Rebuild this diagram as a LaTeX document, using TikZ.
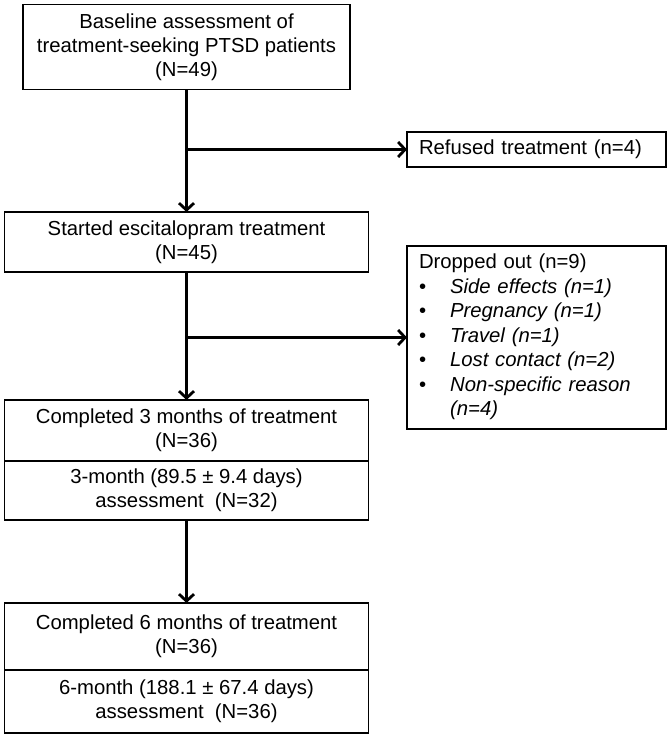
\documentclass[tikz,border=0pt]{standalone}
\usepackage{fontspec}
\setmainfont{Liberation Sans}
\usepackage{tikz}
\usetikzlibrary{arrows.meta, positioning}

\tikzset{
  box/.style={draw, line width=1.2bp, outer sep=0pt, align=center, minimum width=364bp,
              font=\fontsize{20.3bp}{24bp}\selectfont},
  sidebox/.style={draw, line width=1.2bp, outer sep=0pt, minimum width=259bp, inner xsep=12bp,
              text width=235bp, align=left, font=\fontsize{20.3bp}{24.5bp}\selectfont},
  flow/.style={line width=2.8bp, -{Straight Barb[length=7bp,width=15bp]}}
}

\begin{document}
\begin{tikzpicture}[x=1bp, y=-1bp, node distance=195bp, on grid]
    \useasboundingbox (0,0) rectangle (669,736);

      \node[box, minimum width=327bp, minimum height=85bp] (base) at (186.5,47) {Baseline assessment of\\treatment-seeking PTSD patients\\(N=49)};
      \node[box, minimum height=60bp] (started) [below=195bp of base] {Started escitalopram treatment\\(N=45)};
      \node[box, minimum height=61bp] (comp3) [below=188.5bp of started] {Completed 3 months of treatment\\(N=36)};
      \node[box, minimum height=59bp] (assess3) [below=60bp of comp3] {3-month (89.5 ± 9.4 days)\\assessment\ \ (N=32)};
      \node[box, minimum height=67bp] (comp6) [below=146bp of assess3] {Completed 6 months of treatment\\(N=36)};
      \node[box, minimum height=63bp] (assess6) [below=65bp of comp6] {6-month (188.1 ± 67.4 days)\\assessment\ \ (N=36)};

      \node[sidebox, minimum height=35bp] (refused) at (536.5,149.5) {Refused treatment (n=4)};
      \node[sidebox, minimum height=183bp] (dropped) at (536.5,337.5)
        {\begin{tabular}{@{}l@{\hspace{24bp}}l@{}}
           \multicolumn{2}{@{}l@{}}{Dropped out (n=9)}\\
           • & \textit{Side effects (n=1)}\\
           • & \textit{Pregnancy (n=1)}\\
           • & \textit{Travel (n=1)}\\
           • & \textit{Lost contact (n=2)}\\
           • & \textit{Non-specific reason}\\
             & \textit{(n=4)}
         \end{tabular}};

      % branch points on the main line
      \coordinate (split1) at (base.south |- refused.west);
      \coordinate (split2) at (started.south |- dropped.west);

      \draw[flow] (base.south) -- (started.north);
      \draw[flow] (started.south) -- (comp3.north);
      \draw[flow] (assess3.south) -- (comp6.north);
      \draw[flow] (split1) -- (refused.west);
      \draw[flow] (split2) -- (dropped.west);
    \end{tikzpicture}
\end{document}
